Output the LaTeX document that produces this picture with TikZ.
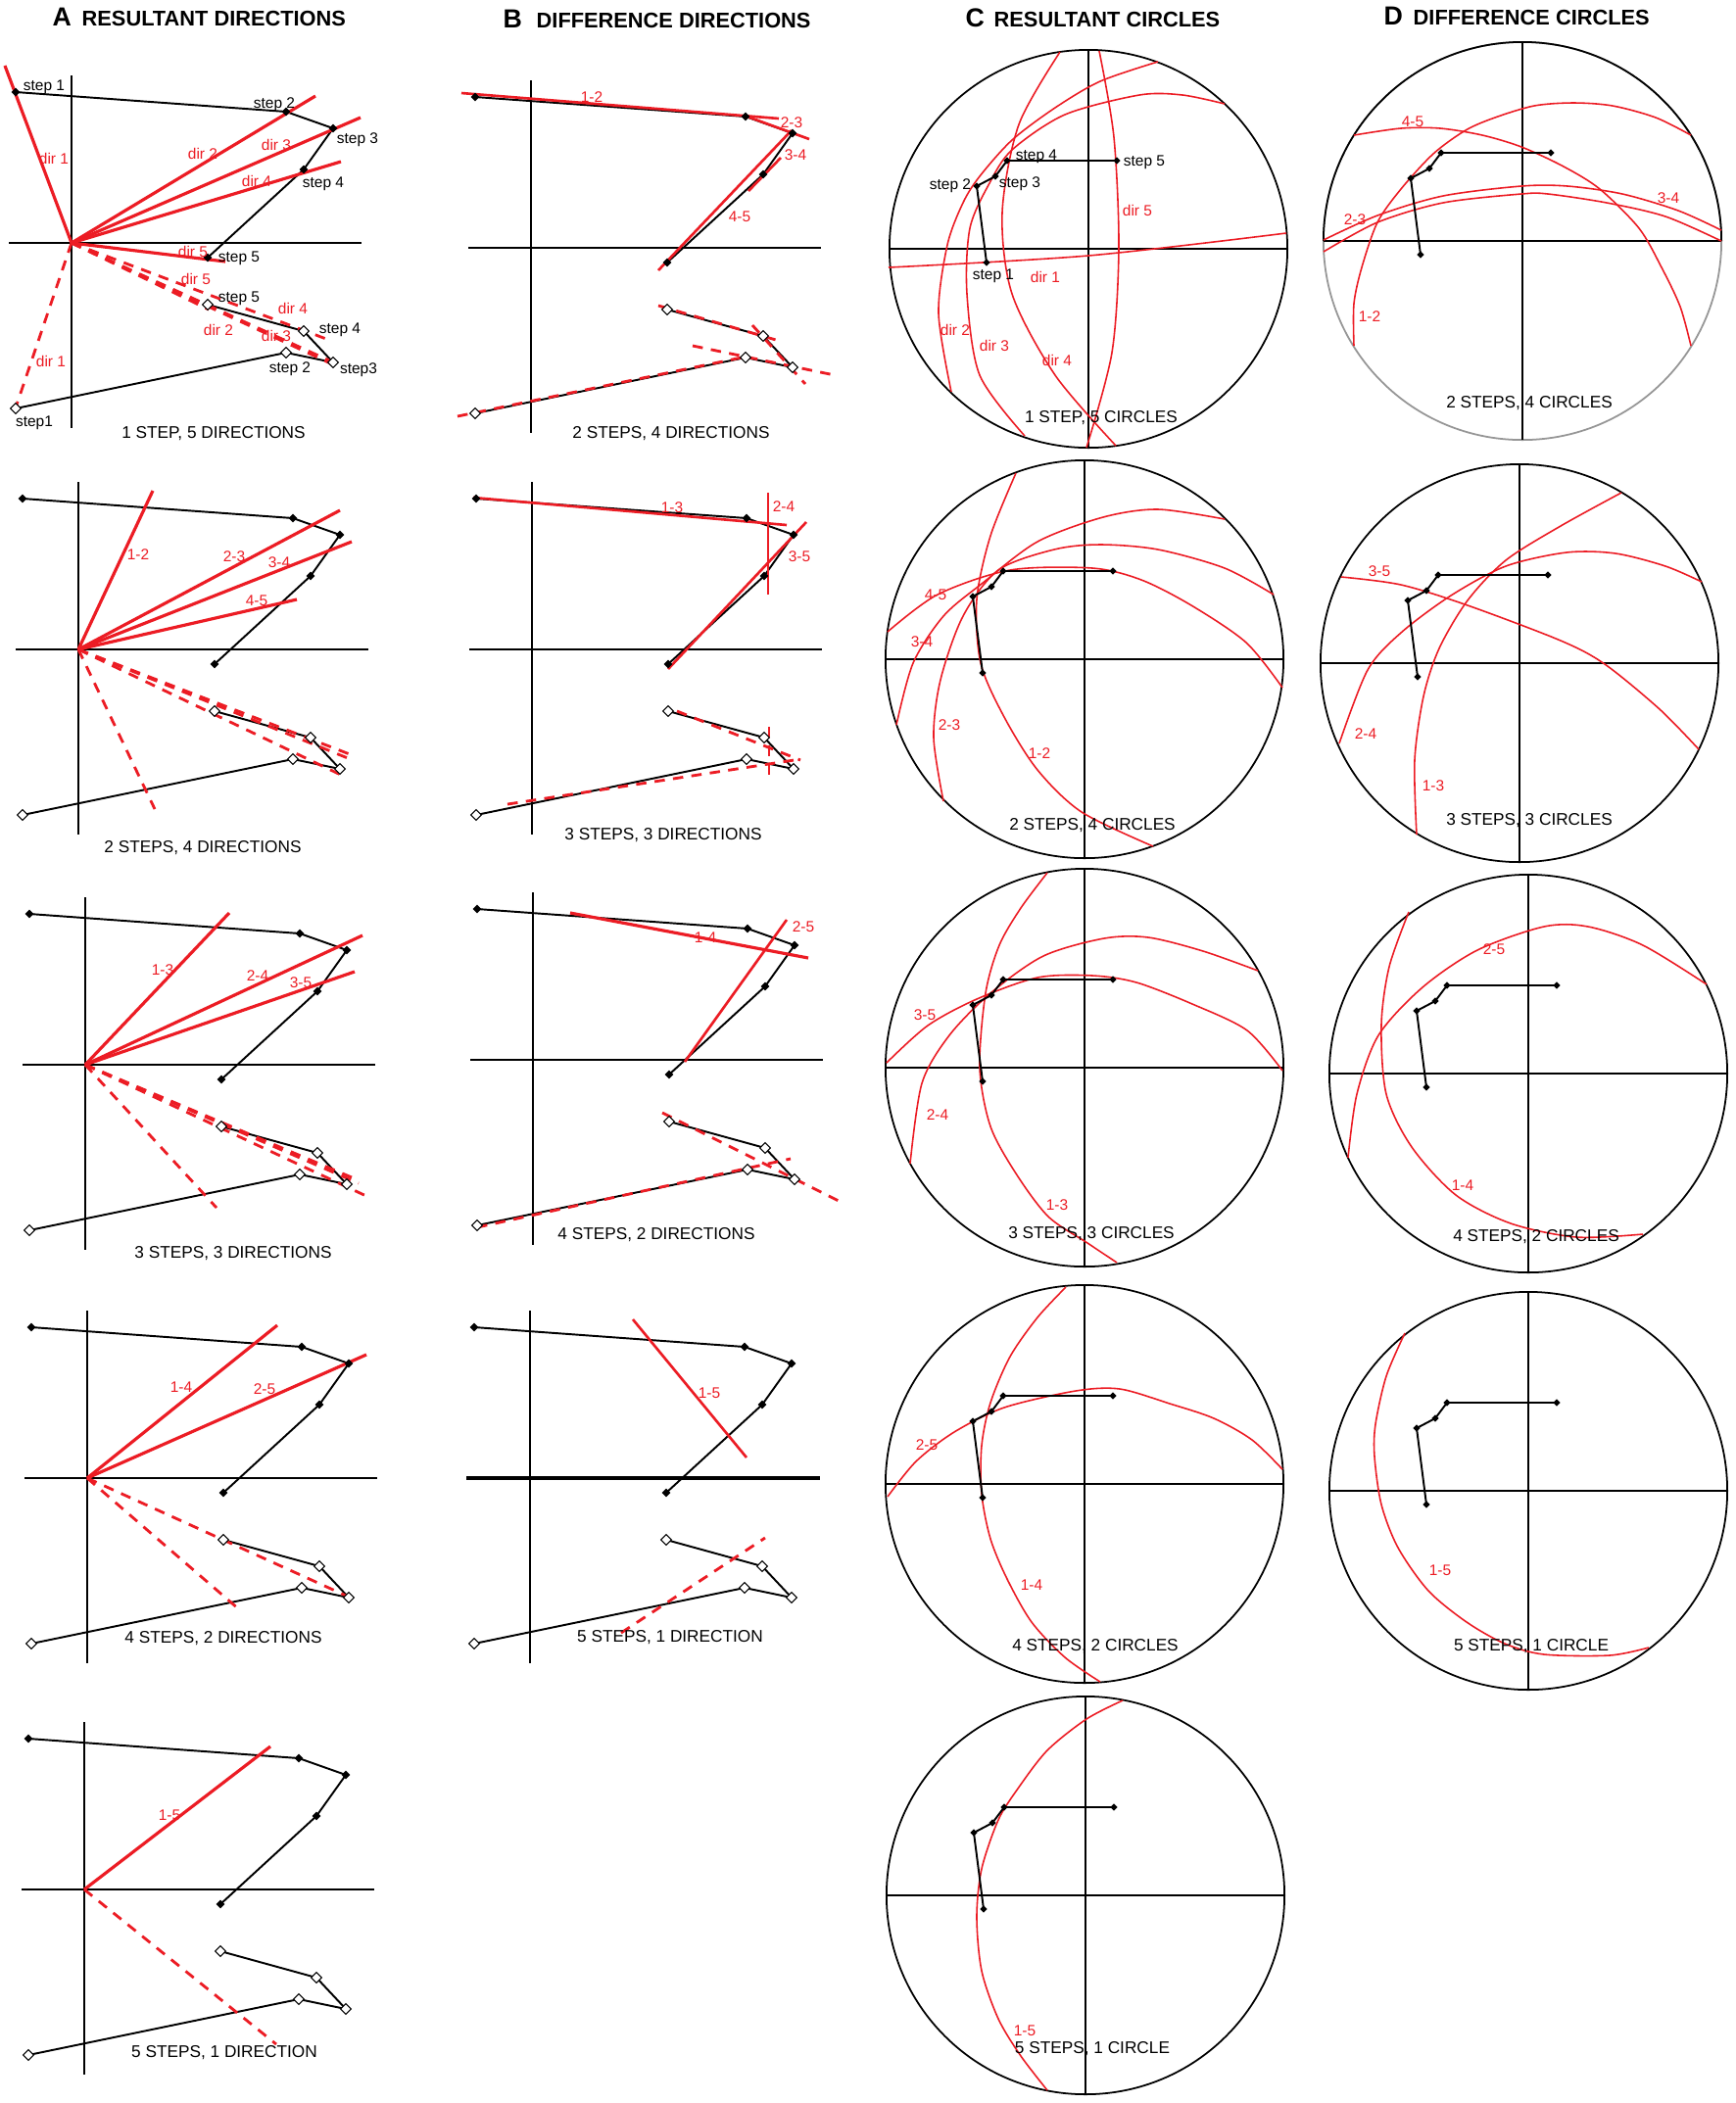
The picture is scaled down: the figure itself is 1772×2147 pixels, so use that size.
\documentclass[tikz,border=0pt]{standalone}
\usepackage{fontspec}
\setmainfont{Liberation Sans}
\usetikzlibrary{shapes.geometric}
\definecolor{rd}{RGB}{236,28,36}
\definecolor{gr}{RGB}{150,150,150}
\tikzset{
 axisline/.style={line width=0.6pt,black},
 caxis/.style={line width=0.55pt,black},
 stepline/.style={line width=0.55pt,black},
 redthick/.style={line width=0.9pt,rd},
 redmid/.style={line width=0.75pt,rd},
 redthin/.style={line width=0.45pt,rd},
 reddash/.style={line width=0.8pt,rd,dash pattern=on 3pt off 2.4pt},
 fdia/.style={diamond,fill=black,inner sep=0pt,minimum size=2.6pt},
 cdia/.style={diamond,fill=black,inner sep=0pt,minimum size=2.2pt},
 odia/.style={diamond,draw=black,fill=white,line width=0.3pt,inner sep=0pt,minimum size=3.2pt},
 cnode/.style={circle,draw=black,line width=0.5pt,minimum size=4.06cm,inner sep=0pt,outer sep=0pt},
 blab/.style={font=\fontsize{4.4}{5}\selectfont,inner sep=0pt},
 rlab/.style={blab,text=rd},
 captxt/.style={font=\fontsize{4.9}{5.5}\selectfont,inner sep=0pt},
 ttl/.style={font=\fontsize{6.2}{7}\selectfont\bfseries,inner sep=0pt,anchor=base west},
 ttlL/.style={font=\fontsize{7.6}{8}\selectfont\bfseries,inner sep=0pt,anchor=base west},
}
\newcommand\abaxes[1]{%
  \coordinate (#1o) at (0,0);
  \coordinate (#1vt) at (0,-171); \coordinate (#1vb) at (0,189);
  \coordinate (#1hl) at (-64,0); \coordinate (#1hr) at (296,0);
  \draw[axisline] (#1vt) -- (#1vb);
  \draw[axisline] (#1hl) -- (#1hr);}
\newcommand\absteps[1]{%
  \coordinate (#1u1) at (-57,-154); \coordinate (#1u2) at (219,-134);
  \coordinate (#1u3) at (267,-117); \coordinate (#1u4) at (237,-75);
  \coordinate (#1u5) at (139,15);
  \coordinate (#1l1) at (-57,169); \coordinate (#1l2) at (219,112);
  \coordinate (#1l3) at (267,122); \coordinate (#1l4) at (237,90);
  \coordinate (#1l5) at (139,63);
  \draw[stepline] (#1u1)--(#1u2)--(#1u3)--(#1u4)--(#1u5);
  \draw[stepline] (#1l1)--(#1l2)--(#1l3)--(#1l4)--(#1l5);}
\newcommand\abmarks[1]{%
  \foreach \k in {1,...,5}{\node[fdia] (#1U\k) at (#1u\k) {};\node[odia] (#1L\k) at (#1l\k) {};}}
\newcommand\ray[4]{\coordinate (#1) at (#4); \draw[#2] (#3) -- (#1);}
\newcommand\seg[4]{\coordinate (#1a) at (#3); \coordinate (#1b) at (#4); \draw[#2] (#1a) -- (#1b);}
\newcommand\cpanel[1]{%
  \node[cnode] (#1c) at (0,0) {};
  \draw[caxis] (#1c.north) -- (#1c.south);
  \draw[caxis] (#1c.west) -- (#1c.east);}
\newcommand\csteps[1]{%
  \coordinate (#1s1) at (-104,14); \coordinate (#1s2) at (-114,-64);
  \coordinate (#1s3) at (-95,-74); \coordinate (#1s4) at (-83,-90);
  \coordinate (#1s5) at (29,-90);
  \draw[stepline] (#1s1)--(#1s2)--(#1s3)--(#1s4)--(#1s5);
  \foreach \k in {1,...,5}{\node[cdia] (#1S\k) at (#1s\k) {};}}
\begin{document}
\begin{tikzpicture}[x=0.01cm,y=-0.01cm]
\fill[white] (0,0) rectangle (1772,2147);
\path[use as bounding box] (0,0) rectangle (1772,2147);
% titles
\node[ttlL] (tA) at (53,26) {A}; \node[ttl] (tAt) at (83,26) {RESULTANT DIRECTIONS};
\node[ttlL] (tB) at (513,28) {B}; \node[ttl] (tBt) at (547,28) {DIFFERENCE DIRECTIONS};
\node[ttlL] (tC) at (985,27) {C}; \node[ttl] (tCt) at (1014,27) {RESULTANT CIRCLES};
\node[ttlL] (tD) at (1412,25) {D}; \node[ttl] (tDt) at (1442,25) {DIFFERENCE CIRCLES};

% ================= A1
\begin{scope}[shift={(73,248)}]
 \abaxes{A1}\absteps{A1}
 \ray{A1d1}{redthick}{A1o}{-68,-181}
 \ray{A1d2}{redthick}{A1o}{249,-150}
 \ray{A1d3}{redthick}{A1o}{295,-128}
 \ray{A1d4}{redthick}{A1o}{275,-83}
 \ray{A1d5}{redthick}{A1o}{157,19}
 \ray{A1e1}{reddash}{A1o}{-60,177}
 \ray{A1e2}{reddash}{A1o}{273,127}
 \ray{A1e3}{reddash}{A1o}{263,120}
 \ray{A1e4}{reddash}{A1o}{260,98}
 \ray{A1e5}{reddash}{A1o}{140,68}
 \abmarks{A1}
\end{scope}
\node[blab] (A1s1) at (45,89) {step 1};
\node[blab] (A1s2) at (280,107) {step 2};
\node[blab] (A1s3) at (365,143) {step 3};
\node[blab] (A1s4) at (330,188) {step 4};
\node[blab] (A1s5) at (244,264) {step 5};
\node[blab] (A1t5) at (244,305) {step 5};
\node[blab] (A1t4) at (347,337) {step 4};
\node[blab] (A1t2) at (296,377) {step 2};
\node[blab] (A1t3) at (366,378) {step3};
\node[blab] (A1t1) at (35,432) {step1};
\node[rlab] (A1r1) at (55,162) {dir 1};
\node[rlab] (A1r2) at (207,157) {dir 2};
\node[rlab] (A1r3) at (282,148) {dir 3};
\node[rlab] (A1r4) at (262,185) {dir 4};
\node[rlab] (A1r5) at (197,257) {dir 5};
\node[rlab] (A1q5) at (200,285) {dir 5};
\node[rlab] (A1q4) at (299,315) {dir 4};
\node[rlab] (A1q2) at (223,337) {dir 2};
\node[rlab] (A1q3) at (282,343) {dir 3};
\node[rlab] (A1q1) at (52,369) {dir 1};
\node[captxt] (A1cap) at (218,443) {1 STEP, 5 DIRECTIONS};

% ================= A2
\begin{scope}[shift={(80,663)}]
 \abaxes{A2}\absteps{A2}
 \ray{A2d1}{redthick}{A2o}{76,-162}
 \ray{A2d2}{redthick}{A2o}{267,-142}
 \ray{A2d3}{redthick}{A2o}{279,-110}
 \ray{A2d4}{redthick}{A2o}{223,-51}
 \ray{A2e1}{reddash}{A2o}{78,163}
 \ray{A2e2}{reddash}{A2o}{277,107}
 \ray{A2e3}{reddash}{A2o}{280,113}
 \ray{A2e4}{reddash}{A2o}{272,130}
 \abmarks{A2}
\end{scope}
\node[rlab] (A2r1) at (141,566) {1-2};
\node[rlab] (A2r2) at (239,568) {2-3};
\node[rlab] (A2r3) at (285,574) {3-4};
\node[rlab] (A2r4) at (262,613) {4-5};
\node[captxt] (A2cap) at (207,866) {2 STEPS, 4 DIRECTIONS};

% ================= A3
\begin{scope}[shift={(87,1087)}]
 \abaxes{A3}\absteps{A3}
 \ray{A3d1}{redthick}{A3o}{147,-155}
 \ray{A3d2}{redthick}{A3o}{283,-132}
 \ray{A3d3}{redthick}{A3o}{275,-95}
 \ray{A3e1}{reddash}{A3o}{134,146}
 \ray{A3e2}{reddash}{A3o}{289,135}
 \ray{A3e3}{reddash}{A3o}{279,121}
 \ray{A3e4}{reddash}{A3o}{272,115}
 \abmarks{A3}
\end{scope}
\node[rlab] (A3r1) at (166,990) {1-3};
\node[rlab] (A3r2) at (263,996) {2-4};
\node[rlab] (A3r3) at (307,1003) {3-5};
\node[captxt] (A3cap) at (238,1280) {3 STEPS, 3 DIRECTIONS};

% ================= A4
\begin{scope}[shift={(89,1509)}]
 \abaxes{A4}\absteps{A4}
 \ray{A4d1}{redthick}{A4o}{194,-156}
 \ray{A4d2}{redthick}{A4o}{285,-126}
 \ray{A4e1}{reddash}{A4o}{155,134}
 \ray{A4e2}{reddash}{A4o}{273,124}
 \abmarks{A4}
\end{scope}
\node[rlab] (A4r1) at (185,1416) {1-4};
\node[rlab] (A4r2) at (270,1418) {2-5};
\node[captxt] (A4cap) at (228,1673) {4 STEPS, 2 DIRECTIONS};

% ================= A5
\begin{scope}[shift={(86,1929)}]
 \abaxes{A5}\absteps{A5}
 \ray{A5d1}{redthick}{A5o}{190,-146}
 \ray{A5e1}{reddash}{A5o}{196,158}
 \abmarks{A5}
\end{scope}
\node[rlab] (A5r1) at (173,1853) {1-5};
\node[captxt] (A5cap) at (229,2096) {5 STEPS, 1 DIRECTION};

% ================= B1
\begin{scope}[shift={(542,253)}]
 \abaxes{B1}\absteps{B1}
 \seg{B1a}{redmid}{-71,-158}{253,-132}
 \seg{B1b}{redmid}{218,-135}{284,-111}
 \seg{B1c}{redmid}{255,-92}{222,-58}
 \seg{B1d}{redmid}{266,-120}{130,23}
 \seg{B1e}{reddash}{-75,172}{220,111}
 \seg{B1f}{reddash}{130,59}{250,94}
 \seg{B1g}{reddash}{165,100}{310,130}
 \seg{B1h}{reddash}{226,79}{280,139}
 \abmarks{B1}
\end{scope}
\node[rlab] (B1r1) at (604,99) {1-2};
\node[rlab] (B1r2) at (808,125) {2-3};
\node[rlab] (B1r3) at (812,158) {3-4};
\node[rlab] (B1r4) at (755,221) {4-5};
\node[captxt] (B1cap) at (685,443) {2 STEPS, 4 DIRECTIONS};

% ================= B2
\begin{scope}[shift={(543,663)}]
 \abaxes{B2}\absteps{B2}
 \seg{B2a}{redmid}{-60,-155}{260,-127}
 \seg{B2b}{redmid}{241,-160}{241,-56}
 \seg{B2c}{redmid}{280,-130}{139,20}
 \seg{B2e}{reddash}{-25,158}{274,112}
 \seg{B2f}{reddash}{148,63}{274,113}
 \seg{B2g}{reddash}{242,79}{242,135}
 \abmarks{B2}
\end{scope}
\node[rlab] (B2r1) at (686,518) {1-3};
\node[rlab] (B2r2) at (800,517) {2-4};
\node[rlab] (B2r3) at (816,568) {3-5};
\node[captxt] (B2cap) at (677,853) {3 STEPS, 3 DIRECTIONS};

% ================= B3
\begin{scope}[shift={(544,1082)}]
 \abaxes{B3}\absteps{B3}
 \seg{B3a}{redthick}{38,-150}{281,-104}
 \seg{B3b}{redmid}{259,-143}{155,2}
 \seg{B3e}{reddash}{-57,171}{263,101}
 \seg{B3f}{reddash}{132,54}{314,145}
 \abmarks{B3}
\end{scope}
\node[rlab] (B3r1) at (720,957) {1-4};
\node[rlab] (B3r2) at (820,946) {2-5};
\node[captxt] (B3cap) at (670,1261) {4 STEPS, 2 DIRECTIONS};

% ================= B4
\begin{scope}[shift={(541,1509)}]
 \coordinate (B4o) at (0,0);
 \coordinate (B4vt) at (0,-171); \coordinate (B4vb) at (0,189);
 \coordinate (B4hl) at (-65,0); \coordinate (B4hr) at (296,0);
 \draw[axisline] (B4vt) -- (B4vb);
 \draw[axisline,line width=1.1pt] (B4hl) -- (B4hr);
 \absteps{B4}
 \seg{B4a}{redmid}{105,-162}{221,-21}
 \seg{B4e}{reddash}{93,158}{240,61}
 \abmarks{B4}
\end{scope}
\node[rlab] (B4r1) at (724,1422) {1-5};
\node[captxt] (B4cap) at (684,1672) {5 STEPS, 1 DIRECTION};

% ================= C1
\begin{scope}[shift={(1111,254)}]
 \cpanel{C1}
 \draw[redthin] plot[smooth] coordinates {(-204,19) (0,7) (202,-16)};
 \draw[redthin] plot[smooth] coordinates {(11,-202) (26,-114) (31,-1) (24,106) (-2,203)};
 \draw[redthin] plot[smooth] coordinates {(-29,-201) (-71,-127) (-88,-37) (-78,46) (-34,129) (28,201)};
 \draw[redthin] plot[smooth] coordinates {(-140,146) (-153,66) (-144,-4) (-128,-47) (-111,-74) (-78,-111) (-34,-144) (12,-171) (71,-191)};
 \draw[redthin] plot[smooth] coordinates {(-65,191) (-111,129) (-124,46) (-121,-21) (-101,-67) (-78,-101) (-24,-137) (52,-157) (96,-157) (139,-148)};
 \csteps{C1}
\end{scope}
\node[blab] (C1s4) at (1058,160) {step 4};
\node[blab] (C1s5) at (1168,166) {step 5};
\node[blab] (C1s2) at (970,190) {step 2};
\node[blab] (C1s3) at (1041,188) {step 3};
\node[blab] (C1s1) at (1014,282) {step 1};
\node[rlab] (C1r1) at (1067,283) {dir 1};
\node[rlab] (C1r5) at (1161,215) {dir 5};
\node[rlab] (C1r2) at (975,337) {dir 2};
\node[rlab] (C1r3) at (1015,353) {dir 3};
\node[rlab] (C1r4) at (1079,368) {dir 4};
\node[captxt] (C1cap) at (1124,427) {1 STEP, 5 CIRCLES};

% ================= D1
\begin{scope}[shift={(1554,246)}]
 \node[cnode,draw=gr] (D1c) at (0,0) {};
 \draw[line width=0.5pt,black] (D1c.east) arc[start angle=0,end angle=180,radius=2.03cm];
 \draw[caxis,line width=0.45pt] (D1c.north) -- (D1c.south);
 \draw[caxis] (D1c.west) -- (D1c.east);
 \draw[redthin] plot[smooth] coordinates {(-172,107) (-172,64) (-164,27) (-148,-19) (-124,-53) (-91,-89) (-58,-113) (-28,-126) (12,-138) (52,-141) (92,-138) (136,-126) (172,-108)};
 \draw[redthin] plot[smooth] coordinates {(-203,-1) (-148,-26) (-81,-46) (-1,-56) (46,-56) (102,-48) (159,-31) (203,-11)};
 \draw[redthin] plot[smooth] coordinates {(-203,11) (-148,-19) (-81,-39) (-1,-48) (26,-48) (86,-39) (146,-25) (203,0)};
 \draw[redthin] plot[smooth] coordinates {(-172,-108) (-124,-115) (-84,-115) (-41,-108) (-1,-96) (42,-76) (79,-53) (119,-13) (142,27) (161,67) (172,107)};
 \csteps{D1}
\end{scope}
\node[rlab] (D1r1) at (1442,124) {4-5};
\node[rlab] (D1r2) at (1383,224) {2-3};
\node[rlab] (D1r3) at (1703,202) {3-4};
\node[rlab] (D1r4) at (1398,323) {1-2};
\node[captxt] (D1cap) at (1561,412) {2 STEPS, 4 CIRCLES};

% ================= C2
\begin{scope}[shift={(1107,673)}]
 \cpanel{C2}
 \draw[redthin] plot[smooth] coordinates {(-70,-190) (-96,-126) (-110,-61) (-106,4) (-82,59) (-48,113) (-3,156) (70,191)};
 \draw[redthin] plot[smooth] coordinates {(-144,145) (-154,80) (-147,21) (-124,-44) (-88,-91) (-31,-112) (16,-117) (75,-112) (143,-93) (193,-66)};
 \draw[redthin] plot[smooth] coordinates {(-192,67) (-175,4) (-144,-44) (-105,-77) (-48,-120) (19,-145) (75,-153) (143,-143)};
 \draw[redthin] plot[smooth] coordinates {(-201,-28) (-150,-66) (-76,-91) (8,-93) (58,-81) (109,-55) (165,-17) (202,29)};
 \csteps{C2}
\end{scope}
\node[rlab] (C2r1) at (955,607) {4-5};
\node[rlab] (C2r2) at (941,655) {3-4};
\node[rlab] (C2r3) at (969,740) {2-3};
\node[rlab] (C2r4) at (1061,769) {1-2};
\node[captxt] (C2cap) at (1115,843) {2 STEPS, 4 CIRCLES};

% ================= D2
\begin{scope}[shift={(1551,677)}]
 \cpanel{D2}
 \draw[redthin] plot[smooth] coordinates {(-105,175) (-107,99) (-98,34) (-82,-15) (-53,-64) (-14,-105) (42,-140) (104,-174)};
 \draw[redthin] plot[smooth] coordinates {(-184,82) (-155,7) (-121,-31) (-70,-69) (-14,-99) (48,-113) (98,-112) (149,-99) (186,-83)};
 \draw[redthin] plot[smooth] coordinates {(-182,-88) (-121,-80) (-53,-59) (42,-23) (87,1) (143,47) (183,88)};
 \csteps{D2}
\end{scope}
\node[rlab] (D2r1) at (1408,583) {3-5};
\node[rlab] (D2r2) at (1394,749) {2-4};
\node[rlab] (D2r3) at (1463,802) {1-3};
\node[captxt] (D2cap) at (1561,838) {3 STEPS, 3 CIRCLES};

% ================= C3
\begin{scope}[shift={(1107,1090)}]
 \cpanel{C3}
 \draw[redthin] plot[smooth] coordinates {(-38,-199) (-65,-163) (-87,-125) (-101,-76) (-107,0) (-96,60) (-70,108) (-37,152) (3,179) (33,199)};
 \draw[redthin] plot[smooth] coordinates {(-178,98) (-166,16) (-138,-33) (-96,-76) (-42,-114) (20,-132) (65,-133) (121,-119) (177,-99)};
 \draw[redthin] plot[smooth] coordinates {(-202,-5) (-160,-43) (-110,-70) (-48,-92) (8,-94) (53,-87) (110,-65) (166,-38) (202,3)};
 \csteps{C3}
\end{scope}
\node[rlab] (C3r1) at (944,1036) {3-5};
\node[rlab] (C3r2) at (957,1138) {2-4};
\node[rlab] (C3r3) at (1079,1230) {1-3};
\node[captxt] (C3cap) at (1114,1260) {3 STEPS, 3 CIRCLES};

% ================= D3
\begin{scope}[shift={(1560,1096)}]
 \cpanel{D3}
 \draw[redthin] plot[smooth] coordinates {(-122,-165) (-142,-109) (-150,-50) (-145,21) (-119,75) (-74,124) (-18,153) (49,167) (117,164)};
 \draw[redthin] plot[smooth] coordinates {(-184,86) (-175,21) (-153,-39) (-108,-88) (-52,-126) (16,-150) (61,-150) (117,-131) (182,-91)};
 \csteps{D3}
\end{scope}
\node[rlab] (D3r1) at (1525,969) {2-5};
\node[rlab] (D3r2) at (1493,1210) {1-4};
\node[captxt] (D3cap) at (1568,1263) {4 STEPS, 2 CIRCLES};

% ================= C4
\begin{scope}[shift={(1107,1515)}]
 \cpanel{C4}
 \draw[redthin] plot[smooth] coordinates {(-19,-201) (-48,-170) (-76,-130) (-96,-83) (-105,-39) (-105,10) (-96,56) (-79,97) (-54,141) (-20,177) (16,202)};
 \draw[redthin] plot[smooth] coordinates {(-201,13) (-172,-23) (-133,-53) (-82,-78) (-9,-95) (36,-97) (87,-82) (132,-67) (171,-45) (202,-15)};
 \csteps{C4}
\end{scope}
\node[rlab] (C4r1) at (946,1475) {2-5};
\node[rlab] (C4r2) at (1053,1618) {1-4};
\node[captxt] (C4cap) at (1118,1681) {4 STEPS, 2 CIRCLES};

% ================= D4
\begin{scope}[shift={(1560,1522)}]
 \cpanel{D4}
 \draw[redthin] plot[smooth] coordinates {(-126,-161) (-145,-117) (-156,-68) (-157,-35) (-150,14) (-133,58) (-102,102) (-63,134) (-24,156) (16,167) (83,168) (123,160)};
 \csteps{D4}
\end{scope}
\node[rlab] (D4r1) at (1470,1603) {1-5};
\node[captxt] (D4cap) at (1563,1681) {5 STEPS, 1 CIRCLE};

% ================= C5
\begin{scope}[shift={(1108,1935)}]
 \cpanel{C5}
 \draw[redthin] plot[smooth] coordinates {(38,-199) (1,-180) (-39,-148) (-69,-109) (-89,-77) (-106,-27) (-111,22) (-106,77) (-89,126) (-66,164) (-39,199)};
 \csteps{C5}
\end{scope}
\node[rlab] (C5r1) at (1046,2073) {1-5};
\node[captxt] (C5cap) at (1115,2092) {5 STEPS, 1 CIRCLE};
\end{tikzpicture}
\end{document}
